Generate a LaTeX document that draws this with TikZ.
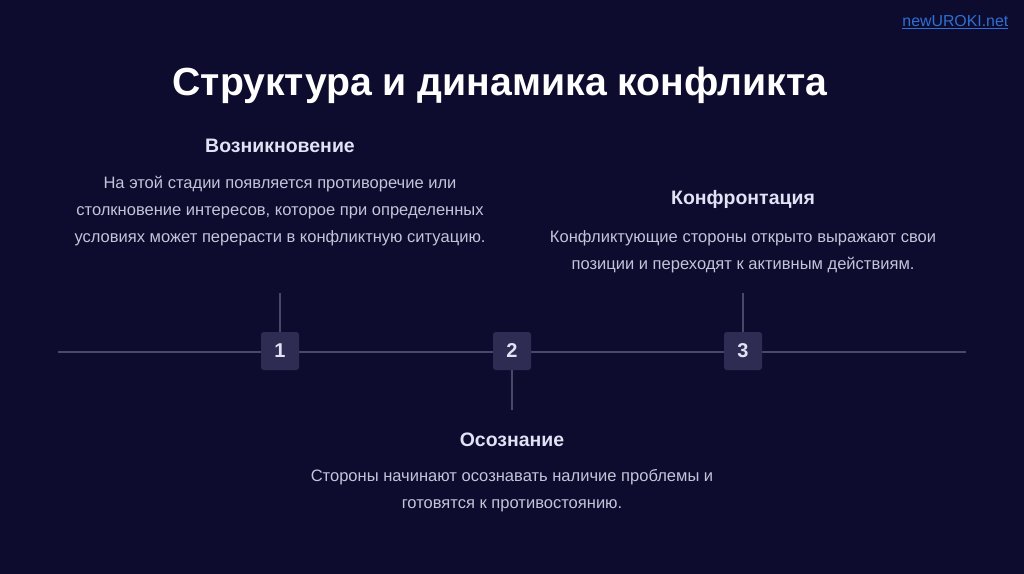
\documentclass[tikz,border=0pt]{standalone}
\usepackage{fontspec}
\setmainfont{Liberation Sans}
\usepackage{tikz}
\usetikzlibrary{positioning, calc}

\definecolor{bgnavy}{HTML}{0D0B2E}
\definecolor{linegray}{HTML}{4A4868}
\definecolor{boxfill}{HTML}{2E2C52}
\definecolor{headtext}{HTML}{E2E2F4}
\definecolor{bodytext}{HTML}{C4C4D8}
\definecolor{linkblue}{HTML}{2F6FD6}

\begin{document}
\begin{tikzpicture}[
  x=0.75pt, y=-0.75pt,
  stagebox/.style={fill=boxfill, rounded corners=2pt, minimum size=28.5pt,
                   inner sep=0pt, font=\fontsize{15}{18}\selectfont\bfseries,
                   text=headtext},
  stagehead/.style={font=\fontsize{14.6}{17}\selectfont\bfseries, text=headtext},
  stagebody/.style={font=\fontsize{12.4}{20.2}\selectfont, text=bodytext,
                    align=center},
  tline/.style={draw=linegray, line width=1.2pt},
]
% Background
\fill[bgnavy] (0,0) rectangle (1024,574);
\useasboundingbox (0,0) rectangle (1024,574);

% Header
\node[anchor=east, text=linkblue, font=\fontsize{11.9}{14}\selectfont]
  (link) at (1013,22) {\underline{newUROKI.net}};
\node[text=white, font=\fontsize{29.4}{34}\selectfont\bfseries]
  (title) at (500,85) {Структура и динамика конфликта};

% Timeline
\coordinate (tlstart) at (58,352);
\coordinate (tlend)   at (966,352);
\draw[tline] (tlstart) -- (tlend);

% Stages
\node[stagebox] (s1) at (280,351) {1};
\node[stagebox] (s2) at (512,351) {2};
\node[stagebox] (s3) at (743,351) {3};

\coordinate (t1) at (280,293);
\coordinate (t2) at (512,410);
\coordinate (t3) at (743,293);
\draw[tline] (s1) -- (t1);
\draw[tline] (s2) -- (t2);
\draw[tline] (s3) -- (t3);

% Texts
\node[stagehead] (h1) at (280,146) {Возникновение};
\node[stagebody] (b1) at (280,211) {На этой стадии появляется противоречие или\\
  столкновение интересов, которое при определенных\\
  условиях может перерасти в конфликтную ситуацию.};

\node[stagehead] (h2) at (512,440) {Осознание};
\node[stagebody] (b2) at (512,491) {Стороны начинают осознавать наличие проблемы и\\
  готовятся к противостоянию.};

\node[stagehead] (h3) at (743,199) {Конфронтация};
\node[stagebody] (b3) at (743,252) {Конфликтующие стороны открыто выражают свои\\
  позиции и переходят к активным действиям.};
\end{tikzpicture}
\end{document}
